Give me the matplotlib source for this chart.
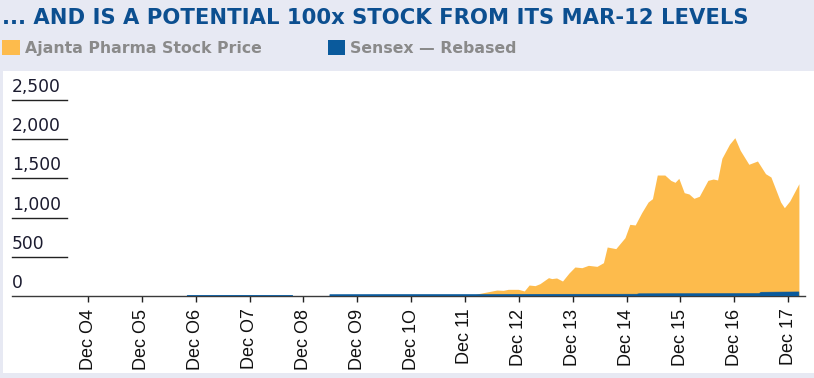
import numpy as np
import matplotlib
matplotlib.use("Agg")
import matplotlib.pyplot as plt
from matplotlib.patches import Patch, Rectangle

# Data (decimal years)
ajanta_x = [2011.9, 2012.05, 2012.21, 2012.55, 2012.67, 2012.76, 2012.95, 2013.06, 2013.15,
            2013.26, 2013.35, 2013.51, 2013.57, 2013.66, 2013.77, 2013.89, 2014.00,
            2014.13, 2014.25, 2014.41, 2014.53, 2014.60, 2014.76, 2014.93, 2015.02,
            2015.12, 2015.24, 2015.36, 2015.44, 2015.53, 2015.67, 2015.78, 2015.86,
            2015.93, 2016.03, 2016.12, 2016.21, 2016.31, 2016.47, 2016.57, 2016.65,
            2016.73, 2016.87, 2016.97, 2017.07, 2017.23, 2017.39, 2017.54, 2017.64,
            2017.82, 2017.89, 2017.99, 2018.16]
ajanta_y = [0, 0, 30, 76, 72, 85, 85, 64, 140,
            132, 157, 234, 222, 230, 191, 293, 370,
            361, 391, 378, 425, 625, 604, 744, 914,
            906, 1063, 1199, 1241, 1543, 1543, 1475, 1450,
            1501, 1318, 1301, 1246, 1272, 1475, 1492, 1480,
            1756, 1935, 2019, 1858, 1680, 1722, 1560, 1518,
            1199, 1126, 1212, 1432]

sensex_x = [2006.80, 2007.30, 2007.80, 2008.30, 2008.76, 2008.77,
            2009.45, 2010.5, 2011.5, 2012.5, 2013.5, 2015.15, 2015.19,
            2016.3, 2017.42, 2017.46, 2017.8, 2018.16]
sensex_y = [6, 7, 8, 7, 6, np.nan,
            18, 20, 20, 20, 22, 23, 28,
            30, 32, 48, 50, 52]

tick_years = [2004, 2005, 2006, 2007, 2008, 2009, 2010, 2011, 2012, 2013, 2014, 2015, 2016, 2017]
tick_labels = ["Dec O4", "Dec O5", "Dec O6", "Dec O7", "Dec O8", "Dec O9", "Dec 1O",
               "Dec 11", "Dec 12", "Dec 13", "Dec 14", "Dec 15", "Dec 16", "Dec 17"]
y_ticks = [0, 500, 1000, 1500, 2000, 2500]
y_labels = ["0", "500", "1,000", "1,500", "2,000", "2,500"]

# Colors
c_BG = "#e7e9f3"
c_TITLE = "#0c4f90"
c_ORANGE = "#fdbb4c"
c_BLUE = "#0a5a9c"
c_LEGEND_TEXT = "#8a8a8a"
c_LABEL = "#1b1b2f"

W, H = 814, 378
fig = plt.figure(figsize=(W / 100, H / 100), dpi=100)
fig.patch.set_facecolor(c_BG)
fig.patches.append(Rectangle((3 / W, 1 - 373 / H), 811 / W, 302 / H,
                             transform=fig.transFigure, facecolor="white",
                             edgecolor="none", zorder=-5))

# Title
fig.text(2 / W, 1 - 18 / H, "... AND IS A POTENTIAL 100x STOCK FROM ITS MAR-12 LEVELS",
         fontsize=15.2, fontweight="bold", color=c_TITLE, va="center", ha="left",
         family="DejaVu Sans")

# Legend
handles = [Patch(facecolor=c_ORANGE, edgecolor="none", label="Ajanta Pharma Stock Price"),
           Patch(facecolor=c_BLUE, edgecolor="none", label="Sensex \u2014 Rebased")]
leg = fig.legend(handles=handles, loc="center left", bbox_to_anchor=(-4 / W, 1 - 48 / H),
                 ncol=2, frameon=False, handlelength=1.1, handleheight=1.1,
                 handletextpad=0.35, columnspacing=4.2, borderaxespad=0,
                 prop={"family": "DejaVu Sans", "weight": "bold", "size": 11.3})
for t in leg.get_texts():
    t.set_color(c_LEGEND_TEXT)

# Axes
left, right, bottom, top = 12, 805, 296, 100
ax = fig.add_axes([left / W, 1 - bottom / H, (right - left) / W, (bottom - top) / H])
ax.set_facecolor("none")

x0 = 2004 + 11.5 / 12
px_per_year = 53.85
ax.set_xlim(x0 - (88 - left) / px_per_year, x0 + (right - 88) / px_per_year)
ax.set_ylim(0, 2500)

ax.fill_between(ajanta_x, 0, ajanta_y, color=c_ORANGE, linewidth=0, zorder=2)
sx = np.array(sensex_x)
sy = np.array(sensex_y)
ok = ~np.isnan(sy)
ax.fill_between(sx, 0, np.where(ok, sy, 0), where=ok, color=c_BLUE,
                linewidth=0.4, edgecolor=c_BLUE, zorder=4)

for s in ["top", "right", "left"]:
    ax.spines[s].set_visible(False)
ax.spines["bottom"].set_color("#3a3a3a")
ax.spines["bottom"].set_linewidth(1.0)
ax.spines["bottom"].set_zorder(3)

ax.set_xticks([y + 11.5 / 12 for y in tick_years])
ax.set_xticklabels(tick_labels, rotation=90, fontsize=13, family="Liberation Sans",
                   color="#111111")
ax.tick_params(axis="x", direction="out", length=4, width=1, color="#222222", pad=5)

ax.set_yticks([])
for v, lab in zip(y_ticks, y_labels):
    if v > 0:
        ax.axhline(v, xmin=0, xmax=(67 - left) / (right - left), color="#222222",
                   linewidth=1.0, clip_on=False)
    ax.text(0, v + 50, lab, transform=ax.get_yaxis_transform(), ha="left",
            va="bottom", fontsize=12.3, family="DejaVu Sans", color=c_LABEL, clip_on=False)

fig.savefig("out.png", dpi=100, facecolor=fig.get_facecolor())
